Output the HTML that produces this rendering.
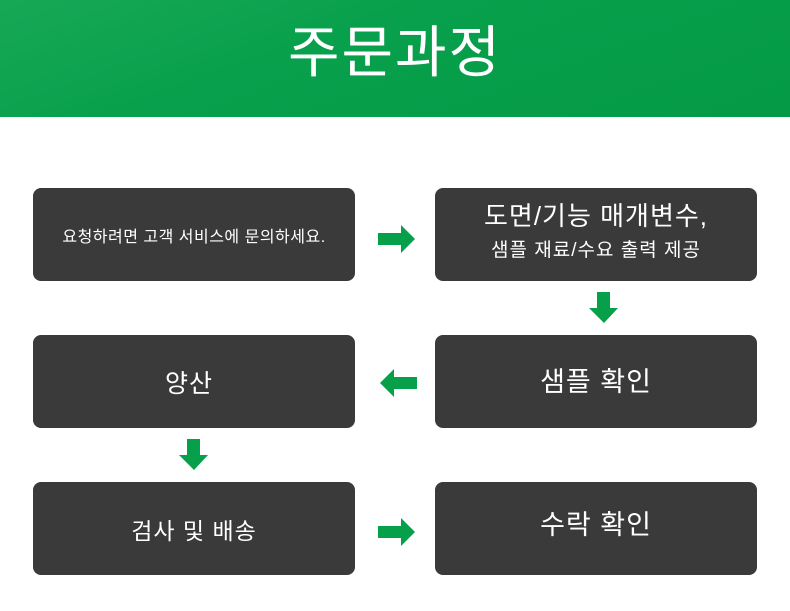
<!DOCTYPE html>
<html><head><meta charset="utf-8"><style>
body{margin:0;width:790px;height:611px;background:#fff;position:relative;overflow:hidden;font-family:"Liberation Sans","Noto Sans CJK KR","NanumGothic",sans-serif}
.hdr{position:absolute;left:0;top:0;width:790px;height:117px;background:linear-gradient(160deg,#17a856 0%,#08a04c 40%,#049a46 100%)}
.title{position:absolute;left:0;width:790px;top:21px;text-align:center;color:#fff;font-size:56px;line-height:64px;letter-spacing:2px}
.b{position:absolute;width:322px;height:93px;background:#3a3a3a;border-radius:8px;color:#fff;display:flex;flex-direction:column;align-items:center;justify-content:center;text-align:center;letter-spacing:1px}
svg{position:absolute;left:0;top:0}
</style></head><body>
<div class="hdr"></div>
<div class="title">주문과정</div>
<div class="b" style="left:33px;top:188px;font-size:16px;letter-spacing:0.5px">요청하려면 고객 서비스에 문의하세요.</div>
<div class="b" style="left:435px;top:188px"><div style="font-size:26px;line-height:30px;margin-top:-4px">도면/기능 매개변수,</div><div style="font-size:19px;line-height:28px;margin-top:6px">샘플 재료/수요 출력 제공</div></div>
<div class="b" style="left:33px;top:335px;font-size:25px"><span style="margin-left:-10px">양산</span></div>
<div class="b" style="left:435px;top:335px;font-size:27px;"><span style="margin-top:-4px">샘플 확인</span></div>
<div class="b" style="left:33px;top:482px;font-size:23px">검사 및 배송</div>
<div class="b" style="left:435px;top:482px;font-size:27px"><span style="margin-top:-12px">수락 확인</span></div>
<svg width="790" height="611" fill="#07a04a">
<polygon points="378,233 401,233 401,225 415,239 401,253 401,245 378,245"/>
<polygon points="378,526 401,526 401,518 415,532 401,546 401,538 378,538"/>
<polygon points="417,377 394,377 394,369 380,383 394,397 394,389 417,389"/>
<polygon points="597,292 610,292 610,308 618,308 604,323 589,308 597,308"/>
<polygon points="187,439 200,439 200,455 208,455 194,470 179,455 187,455"/>
</svg>
</body></html>
